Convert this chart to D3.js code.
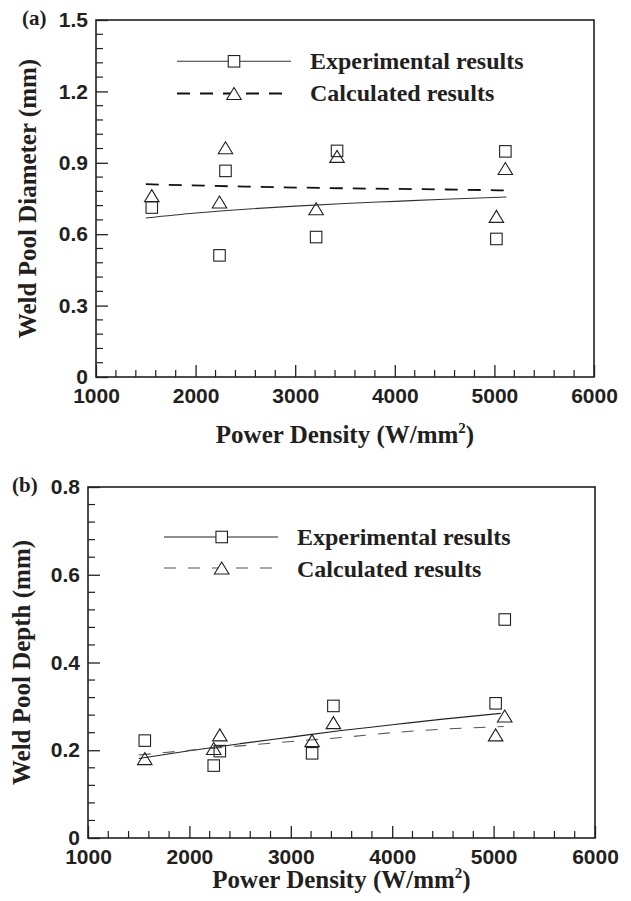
<!DOCTYPE html>
<html><head><meta charset="utf-8">
<script src="https://cdn.jsdelivr.net/npm/d3@7"></script>
<style>body{margin:0;background:#fff}</style>
</head><body>
<svg id="c" width="631" height="901"></svg>
<script>
const powerDensity = [1560, 2240, 2300, 3210, 3420, 5020, 5110];
const diameterExperimental = [0.712, 0.511, 0.866, 0.588, 0.950, 0.580, 0.948];
const diameterCalculated = [0.762, 0.735, 0.963, 0.707, 0.927, 0.675, 0.876];
const depthExperimental = [0.222, 0.165, 0.198, 0.193, 0.301, 0.307, 0.498];
const depthCalculated = [0.181, 0.204, 0.235, 0.222, 0.263, 0.235, 0.278];

const diameterExpFitX = [1500, 2000, 2500, 3000, 3500, 4000, 4500, 5120];
const diameterExpFitY = [0.668, 0.689, 0.705, 0.718, 0.729, 0.738, 0.747, 0.756];
const diameterCalcFitX = [1500, 2500, 3500, 4500, 5120];
const diameterCalcFitY = [0.810, 0.800, 0.793, 0.788, 0.784];
const depthExpFitX = [1500, 2000, 2500, 3000, 3500, 4000, 4500, 5070];
const depthExpFitY = [0.181, 0.199, 0.215, 0.230, 0.245, 0.258, 0.271, 0.284];
const depthCalcFitX = [1500, 2000, 2500, 3000, 3500, 4000, 4500, 5100];
const depthCalcFitY = [0.189, 0.200, 0.210, 0.220, 0.229, 0.240, 0.248, 0.254];

const xTickValues = [1000, 2000, 3000, 4000, 5000, 6000];
const xTickLabels = ["1000", "2000", "3000", "4000", "5000", "6000"];
const diameterTickValues = [0, 0.3, 0.6, 0.9, 1.2, 1.5];
const diameterTickLabels = ["0", "0.3", "0.6", "0.9", "1.2", "1.5"];
const depthTickValues = [0, 0.2, 0.4, 0.6, 0.8];
const depthTickLabels = ["0", "0.2", "0.4", "0.6", "0.8"];
const seriesNames = ["Experimental results", "Calculated results"];

const svg = d3.select("#c");
const INK = "#231f20";
const SERIF = "'Liberation Serif','Times New Roman',serif";
const SANS = "'Liberation Sans',Arial,sans-serif";

function trianglePath(cx, cy, w, h) {
  return `M${cx},${cy - h/2}L${cx + w/2},${cy + h/2}L${cx - w/2},${cy + h/2}Z`;
}

function panel(o) {
  const x = d3.scaleLinear().domain([1000, 6000]).range([o.left, o.right]);
  const y = d3.scaleLinear().domain([0, o.ymax]).range([o.bottom, o.top]);
  const g = svg.append("g");

  // minor ticks
  const minorX = d3.range(1000, 6001, 200).filter(v => v % 1000 !== 0);
  g.append("g").selectAll("line").data(minorX).join("line")
    .attr("x1", d => x(d)).attr("x2", d => x(d))
    .attr("y1", o.bottom).attr("y2", o.bottom - 7)
    .attr("stroke", INK).attr("stroke-width", 1.2);
  const minorY = d3.range(0, o.ymax + 1e-9, o.yminor).filter(v => Math.abs(v / o.ymajor - Math.round(v / o.ymajor)) > 1e-6);
  g.append("g").selectAll("line").data(minorY).join("line")
    .attr("x1", o.left).attr("x2", o.left + 7)
    .attr("y1", d => y(d)).attr("y2", d => y(d))
    .attr("stroke", INK).attr("stroke-width", 1.2);

  // major axes
  const ax = g.append("g").attr("transform", `translate(0,${o.bottom})`)
    .call(d3.axisBottom(x).tickValues(xTickValues).tickSize(-12).tickPadding(11)
      .tickFormat((d, i) => xTickLabels[i]));
  const ay = g.append("g").attr("transform", `translate(${o.left},0)`)
    .call(d3.axisLeft(y).tickValues(o.yTicks).tickSize(-12).tickPadding(8)
      .tickFormat((d, i) => o.yLabels[i]));
  [ax, ay].forEach(a => {
    a.select(".domain").remove();
    a.selectAll("line").attr("stroke", INK).attr("stroke-width", 1.3);
    a.selectAll("text").attr("fill", INK).style("font-family", SANS)
      .style("font-size", "21px").style("font-weight", "bold");
  });

  // frame
  g.append("rect").attr("x", o.left).attr("y", o.top)
    .attr("width", o.right - o.left).attr("height", o.bottom - o.top)
    .attr("fill", "none").attr("stroke", INK).attr("stroke-width", 1.6);

  // fit lines
  const line = d3.line().x(d => x(d[0])).y(d => y(d[1])).curve(d3.curveMonotoneX);
  g.append("path").datum(d3.zip(o.expFitX, o.expFitY)).attr("d", line)
    .attr("fill", "none").attr("stroke", o.solidColor).attr("stroke-width", 1.1);
  g.append("path").datum(d3.zip(o.calcFitX, o.calcFitY)).attr("d", line)
    .attr("fill", "none").attr("stroke", o.dashColor).attr("stroke-width", o.dashWidth)
    .attr("stroke-dasharray", o.dash);

  // markers
  g.append("g").selectAll("rect").data(d3.zip(powerDensity, o.exp)).join("rect")
    .attr("x", d => x(d[0]) - 5.75).attr("y", d => y(d[1]) - 5.75)
    .attr("width", 11.5).attr("height", 11.5)
    .attr("fill", "none").attr("stroke", INK).attr("stroke-width", 1.1);
  g.append("g").selectAll("path").data(d3.zip(powerDensity, o.calc)).join("path")
    .attr("d", d => trianglePath(x(d[0]), y(d[1]), 14.5, 12))
    .attr("fill", "none").attr("stroke", INK).attr("stroke-width", 1.1);

  // legend
  const L = o.legend;
  g.append("line").attr("x1", L.x1).attr("x2", L.x2).attr("y1", L.y1).attr("y2", L.y1)
    .attr("stroke", o.solidColor).attr("stroke-width", 1.1);
  g.append("rect").attr("x", L.xm - 5.75).attr("y", L.y1 - 5.75).attr("width", 11.5).attr("height", 11.5)
    .attr("fill", "#fff").attr("stroke", INK).attr("stroke-width", 1.1);
  g.append("line").attr("x1", L.x1).attr("x2", L.x2).attr("y1", L.y2).attr("y2", L.y2)
    .attr("stroke", o.dashColor).attr("stroke-width", o.dashWidth).attr("stroke-dasharray", o.dash);
  g.append("path").attr("d", trianglePath(L.xm, L.y2, 14.5, 12))
    .attr("fill", "#fff").attr("stroke", INK).attr("stroke-width", 1.1);
  seriesNames.forEach((s, i) => {
    g.append("text").attr("x", L.tx).attr("y", i === 0 ? L.b1 : L.b2).text(s)
      .attr("fill", INK).style("font-family", SERIF).style("font-size", "24px").style("font-weight", "bold");
  });

  // axis titles
  const xt = g.append("text").attr("x", (o.left + o.right) / 2).attr("y", o.xTitleY)
    .attr("text-anchor", "middle").attr("fill", INK)
    .style("font-family", SERIF).style("font-size", "25px").style("font-weight", "bold");
  xt.append("tspan").text("Power Density (W/mm");
  xt.append("tspan").text("2").attr("dy", -10).style("font-size", "15px");
  xt.append("tspan").text(")").attr("dy", 10);

  g.append("text").attr("transform", `translate(${o.yTitleX},${(o.top + o.bottom) / 2}) rotate(-90)`)
    .attr("text-anchor", "middle").attr("fill", INK)
    .style("font-family", SERIF).style("font-size", "25px").style("font-weight", "bold")
    .text(o.yTitle);

  g.append("text").attr("x", o.tagX).attr("y", o.tagY).text(o.tag).attr("fill", INK)
    .style("font-family", SERIF).style("font-size", "21px").style("font-weight", "bold");
}

panel({
  left: 96, right: 594, top: 20, bottom: 377, ymax: 1.5, ymajor: 0.3, yminor: 0.06,
  yTicks: diameterTickValues, yLabels: diameterTickLabels,
  exp: diameterExperimental, calc: diameterCalculated,
  expFitX: diameterExpFitX, expFitY: diameterExpFitY,
  calcFitX: diameterCalcFitX, calcFitY: diameterCalcFitY,
  solidColor: "#333", dashColor: "#111", dashWidth: 1.8, dash: "13,10",
  legend: {x1: 177, x2: 291, xm: 234, y1: 61.3, y2: 93.5, tx: 310, b1: 69, b2: 101},
  xTitleY: 443, yTitleX: 36, yTitle: "Weld Pool Diameter (mm)",
  tag: "(a)", tagX: 22, tagY: 25
});

panel({
  left: 88, right: 595, top: 487, bottom: 838, ymax: 0.8, ymajor: 0.2, yminor: 0.04,
  yTicks: depthTickValues, yLabels: depthTickLabels,
  exp: depthExperimental, calc: depthCalculated,
  expFitX: depthExpFitX, expFitY: depthExpFitY,
  calcFitX: depthCalcFitX, calcFitY: depthCalcFitY,
  solidColor: "#222", dashColor: "#555", dashWidth: 1.1, dash: "12,12",
  legend: {x1: 164, x2: 278, xm: 221.7, y1: 537, y2: 568, tx: 297, b1: 545, b2: 577},
  xTitleY: 888, yTitleX: 30, yTitle: "Weld Pool Depth (mm)",
  tag: "(b)", tagX: 12, tagY: 492
});
</script>
</body></html>
